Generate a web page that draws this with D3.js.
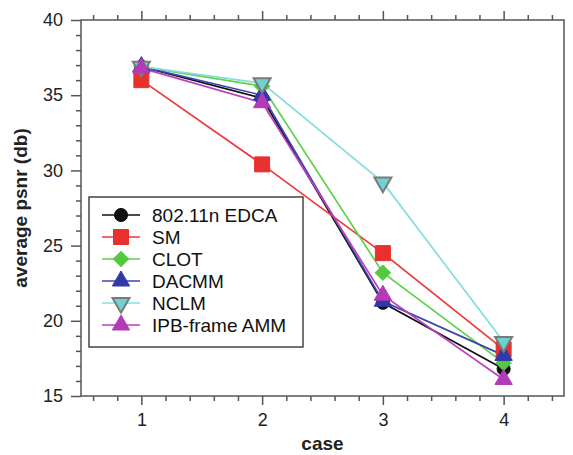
<!DOCTYPE html>
<html>
<head>
<meta charset="utf-8">
<script src="https://cdn.jsdelivr.net/npm/d3@7"></script>
<style>
  html, body { margin: 0; padding: 0; background: #fff; }
  svg { display: block; font-family: "Liberation Sans", Arial, sans-serif; }
</style>
</head>
<body>
<svg id="chart" width="573" height="455"></svg>
<script>
// Cases on the x axis
const cases = [1, 2, 3, 4];

// Average PSNR (dB) for each scheme, one value per case
const edca  = [36.9, 34.8, 21.2, 16.8];
const sm    = [36.0, 30.4, 24.5, 18.1];
const clot  = [36.9, 35.6, 23.2, 17.2];
const dacmm = [36.9, 35.0, 21.3, 17.7];
const nclm  = [36.9, 35.8, 29.2, 18.6];
const ipb   = [36.8, 34.5, 21.7, 16.1];

const seriesNames = ["802.11n EDCA", "SM", "CLOT", "DACMM", "NCLM", "IPB-frame AMM"];
const seriesValues = [edca, sm, clot, dacmm, nclm, ipb];

// Axis ticks
const yMajorTicks = [15, 20, 25, 30, 35, 40];
const xMajorTicks = [1, 2, 3, 4];

const styles = [
  { color: "#111111", fill: "#111111", stroke: "#111111", shape: "circle" },
  { color: "#ee3a3a", fill: "#e8302e", stroke: "#e8302e", shape: "square" },
  { color: "#5fd14a", fill: "#55c840", stroke: "#55c840", shape: "diamond" },
  { color: "#3a46b0", fill: "#2f3aa8", stroke: "#2f3aa8", shape: "triangle" },
  { color: "#86dcdc", fill: "#6fd2d0", stroke: "#7a7a7a", shape: "down" },
  { color: "#bb3fbf", fill: "#b33ab8", stroke: "#b33ab8", shape: "triangle" }
];

const svg = d3.select("#chart");
const plot = { left: 81, right: 564, top: 20, bottom: 396 };

const x = d3.scaleLinear().domain([0.5, 4.5]).range([plot.left, plot.right]);
const y = d3.scaleLinear().domain([15, 40]).range([plot.bottom, plot.top]);

const axisColor = "#555";

// Plot frame
svg.append("rect")
  .attr("x", plot.left).attr("y", plot.top)
  .attr("width", plot.right - plot.left).attr("height", plot.bottom - plot.top)
  .attr("fill", "none").attr("stroke", axisColor).attr("stroke-width", 1.5);

function styleAxis(g) {
  g.select(".domain").remove();
  g.selectAll(".tick line").attr("stroke", axisColor).attr("stroke-width", 1.5);
  g.selectAll(".tick text")
    .attr("fill", "#222")
    .style("font-size", "18px")
    .style("font-family", "'Liberation Sans', Arial, sans-serif");
}

// Y axis: minor ticks every 1, major every 5
const yMinor = d3.range(15, 40.01, 1).filter(v => v % 5 !== 0);
svg.append("g").attr("transform", `translate(${plot.left},0)`)
  .call(d3.axisLeft(y).tickValues(yMinor).tickSize(5).tickFormat(""))
  .call(styleAxis);
svg.append("g").attr("transform", `translate(${plot.left},0)`)
  .call(d3.axisLeft(y).tickValues(yMajorTicks).tickSize(10).tickPadding(8).tickFormat(d3.format("d")))
  .call(styleAxis);

// X axis: minor ticks every 0.2
const xMinor = d3.range(0.6, 4.41, 0.2).map(v => +v.toFixed(1)).filter(v => !xMajorTicks.includes(v));
svg.append("g").attr("transform", `translate(0,${plot.bottom})`)
  .call(d3.axisBottom(x).tickValues(xMinor).tickSize(5).tickFormat(""))
  .call(styleAxis);
svg.append("g").attr("transform", `translate(0,${plot.bottom})`)
  .call(d3.axisBottom(x).tickValues(xMajorTicks).tickSize(9).tickPadding(8).tickFormat(d3.format("d")))
  .call(styleAxis);
// Mirrored ticks along the top
svg.append("g").attr("transform", `translate(0,${plot.top})`)
  .call(d3.axisTop(x).tickValues(xMinor).tickSize(5).tickFormat(""))
  .call(styleAxis);
svg.append("g").attr("transform", `translate(0,${plot.top})`)
  .call(d3.axisTop(x).tickValues(xMajorTicks).tickSize(9).tickFormat(""))
  .call(styleAxis);

// Axis titles
svg.append("text")
  .attr("x", (plot.left + plot.right) / 2).attr("y", 450)
  .attr("text-anchor", "middle")
  .style("font-size", "19px").style("font-weight", "bold")
  .attr("fill", "#222")
  .text("case");
svg.append("text")
  .attr("transform", `translate(27,${(plot.top + plot.bottom) / 2}) rotate(-90)`)
  .attr("text-anchor", "middle")
  .style("font-size", "19px").style("font-weight", "bold")
  .attr("fill", "#222")
  .text("average psnr (db)");

// Marker symbols
function symbolFor(shape) {
  switch (shape) {
    case "circle":   return d3.symbol(d3.symbolCircle, 135)();
    case "square":   return d3.symbol(d3.symbolSquare, 225)();
    case "diamond":  return d3.symbol(d3.symbolSquare, 115)();
    case "triangle": return d3.symbol(d3.symbolTriangle, 130)();
    case "down":     return d3.symbol(d3.symbolTriangle, 125)();
  }
}
function drawMarker(g, s, cx, cy) {
  let rot = "";
  if (s.shape === "down") rot = " rotate(180)";
  if (s.shape === "diamond") rot = " rotate(45)";
  g.append("path")
    .attr("d", symbolFor(s.shape))
    .attr("transform", `translate(${cx},${cy})` + rot)
    .attr("fill", s.fill)
    .attr("stroke", s.stroke)
    .attr("stroke-width", s.shape === "down" ? 2 : 1);
}

const line = d3.line().x((d, i) => x(cases[i])).y(d => y(d));

const lines = svg.append("g");
seriesValues.forEach((vals, k) => {
  lines.append("path")
    .attr("d", line(vals))
    .attr("fill", "none")
    .attr("stroke", styles[k].color)
    .attr("stroke-width", 1.7);
});
const marks = svg.append("g");
seriesValues.forEach((vals, k) => {
  vals.forEach((v, i) => drawMarker(marks, styles[k], x(cases[i]), y(v)));
});

// Legend
const legend = svg.append("g");
legend.append("rect")
  .attr("x", 89).attr("y", 197).attr("width", 214).attr("height", 150)
  .attr("fill", "#fff").attr("stroke", "#444").attr("stroke-width", 1.5);
seriesNames.forEach((name, k) => {
  const cy = 215 + k * 22;
  legend.append("line")
    .attr("x1", 102).attr("x2", 140).attr("y1", cy).attr("y2", cy)
    .attr("stroke", styles[k].color).attr("stroke-width", 1.7);
  drawMarker(legend, styles[k], 121, cy);
  legend.append("text")
    .attr("x", 152).attr("y", cy + 7)
    .style("font-size", "19px")
    .attr("fill", "#111")
    .text(name);
});
</script>
</body>
</html>
